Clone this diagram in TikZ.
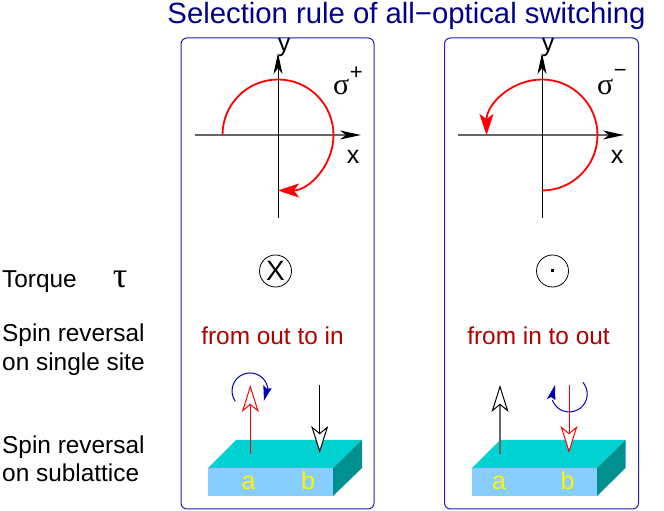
\documentclass[tikz,border=0pt]{standalone}
\usepackage{fontspec}
\setmainfont{Liberation Sans}
\newfontfamily\symb{Liberation Serif}
\usetikzlibrary{arrows.meta,positioning}
\definecolor{navy}{HTML}{00008B}
\definecolor{frame}{HTML}{2222AA}
\definecolor{topface}{HTML}{00D2D2}
\definecolor{frontface}{HTML}{87CEFF}
\definecolor{sideface}{HTML}{009090}
\definecolor{darkred}{HTML}{B00000}
\definecolor{curl}{HTML}{0000B0}
\tikzset{
  panel/.style={draw=frame,line width=1pt,rounded corners=6pt},
  lab/.style={anchor=base west,inner sep=0pt,font=\fontsize{24.4}{24.4}\selectfont},
  axlab/.style={inner sep=0pt,font=\fontsize{25}{25}\selectfont},
  xaxis/.style={draw=black!60,line width=1.6pt,-{Stealth[black,length=21pt,width=9pt,inset=6pt]}},
  yaxis/.style={draw=black,line width=1pt,-{Stealth[length=21pt,width=9pt,inset=6pt]}},
  pol/.style={draw=red,line width=1.8pt,-{Stealth[red,length=21pt,width=14pt,inset=5pt]}},
  openred/.style={draw=red,line width=1pt,-{Stealth[open,fill=white,length=27pt,width=17pt,inset=7pt]}},
  openblack/.style={draw=black,line width=1pt,-{Stealth[open,fill=white,length=27pt,width=17pt,inset=7pt]}},
  openthick/.style={draw=black!60,line width=1.6pt,-{Stealth[open,black,fill=white,line width=1pt,length=27pt,width=17pt,inset=7pt]}},
  twist/.style={draw=curl,line width=1pt},
  sense/.style={draw,circle,line width=0.8pt,minimum size=32pt,inner sep=0pt},
  site/.style={anchor=base,inner sep=0pt,text=yellow,font=\fontsize{25}{25}\selectfont},
  rule/.style={anchor=base,inner sep=0pt,text=darkred,font=\fontsize{24.4}{24.4}\selectfont}
}
\begin{document}
\begin{tikzpicture}[x=1pt,y=1pt]
\useasboundingbox (0,0) rectangle (664,511);
\node[inner sep=0pt,anchor=base,text=navy,font=\fontsize{29.3}{29.3}\selectfont] (title) at (406.5,487) {Selection rule of all−optical switching};
% panels
\node[panel,minimum width=193pt,minimum height=471pt] (pl) at (277.5,237.5) {};
\node[panel,minimum width=194pt,minimum height=471pt] (pr) at (541.5,237.5) {};
% left labels
\node[lab] (tq) at (2,223) {Torque};
\node[anchor=base,inner sep=0pt,font=\symb\fontsize{36}{36}\selectfont] (tau) at (120,223) {τ};
\node[lab] (sr1) at (2,169) {Spin reversal};
\node[lab] (sr2) at (2,140) {on single site};
\node[lab] (sl1) at (2,57) {Spin reversal};
\node[lab] (sl2) at (2,29) {on sublattice};
% axes left
\coordinate (xla) at (195,376);
\coordinate (xlb) at (361,376);
\coordinate (yla) at (278,293);
\coordinate (ylb) at (278,458);
\draw[xaxis] (xla)--(xlb);
\draw[yaxis] (yla)--(ylb);
\node[axlab] (xl) at (353,354) {x};
\node[axlab] (yl) at (284,464) {y};
\node[anchor=base west,inner sep=0pt,font=\symb\fontsize{30}{30}\selectfont] (sp) at (333,416) {σ};
\node[right=0pt of sp.north east,anchor=west,inner sep=0pt,font=\fontsize{22}{22}\selectfont,yshift=6pt] (spp) {+};
\coordinate (al) at (222.5,376);
\draw[pol] (al) arc[start angle=180,end angle=-90,radius=55.5];
% axes right
\coordinate (xra) at (458,376);
\coordinate (xrb) at (624,376);
\coordinate (yra) at (542,293);
\coordinate (yrb) at (542,458);
\draw[xaxis] (xra)--(xrb);
\draw[yaxis] (yra)--(yrb);
\node[axlab] (xr) at (617,354) {x};
\node[axlab] (yr) at (548,464) {y};
\node[anchor=base west,inner sep=0pt,font=\symb\fontsize{30}{30}\selectfont] (sm) at (597,416) {σ};
\node[right=0pt of sm.north east,anchor=west,inner sep=0pt,font=\fontsize{22}{22}\selectfont,yshift=6pt] (smm) {−};
\coordinate (ar) at (542,320.5);
\draw[pol] (ar) arc[start angle=-90,end angle=180,radius=55.5];
% torque
\node[sense] (tl) at (275.5,240) {\fontsize{28}{28}\selectfont X};
\node[sense] (tr) at (552.5,240) {};
\fill (551,238.5) rectangle (554,241.5);
\node[rule] (fl) at (272.5,166) {from out to in};
\node[rule] (fr) at (538.5,166) {from in to out};
% slab left
\fill[topface] (208,43)--(236,71)--(362,71)--(333,43)--cycle;
\fill[frontface] (208,15) rectangle (333,43);
\fill[sideface] (333,15)--(362,43)--(362,71)--(333,43)--cycle;
\node[site] (aa) at (248.5,21) {a};
\node[site] (ab) at (308,21) {b};
\coordinate (lra) at (250.3,57);
\coordinate (lrb) at (250.3,126);
\coordinate (lba) at (319.7,126);
\coordinate (lbb) at (319.7,58);
\draw[twist] (235.3,109.7) arc[start angle=215,end angle=-5,radius=18];
\fill[curl] (263.3,126)--(267,122)--(271.7,123)--(264,110.3)--cycle;
\draw[openred] (lra)--(lrb);
\draw[openblack] (lba)--(lbb);
% slab right
\fill[topface] (472,43)--(500,71)--(625.5,71)--(597,43)--cycle;
\fill[frontface] (472,15) rectangle (597,43);
\fill[sideface] (597,15)--(625.5,43)--(625.5,71)--(597,43)--cycle;
\node[site] (ba) at (499,21) {a};
\node[site] (bb) at (567.5,21) {b};
\coordinate (rba) at (500,57);
\coordinate (rbb) at (500,126);
\coordinate (rra) at (569,126);
\coordinate (rrb) at (569,58);
\draw[twist] (583,128.6) arc[start angle=40,end angle=-160,radius=18];
\fill[curl] (555,126)--(546.7,111.7)--(551,114)--(555.3,111)--cycle;
\draw[openthick] (rba)--(rbb);
\draw[openred] (rra)--(rrb);
\end{tikzpicture}
\end{document}
